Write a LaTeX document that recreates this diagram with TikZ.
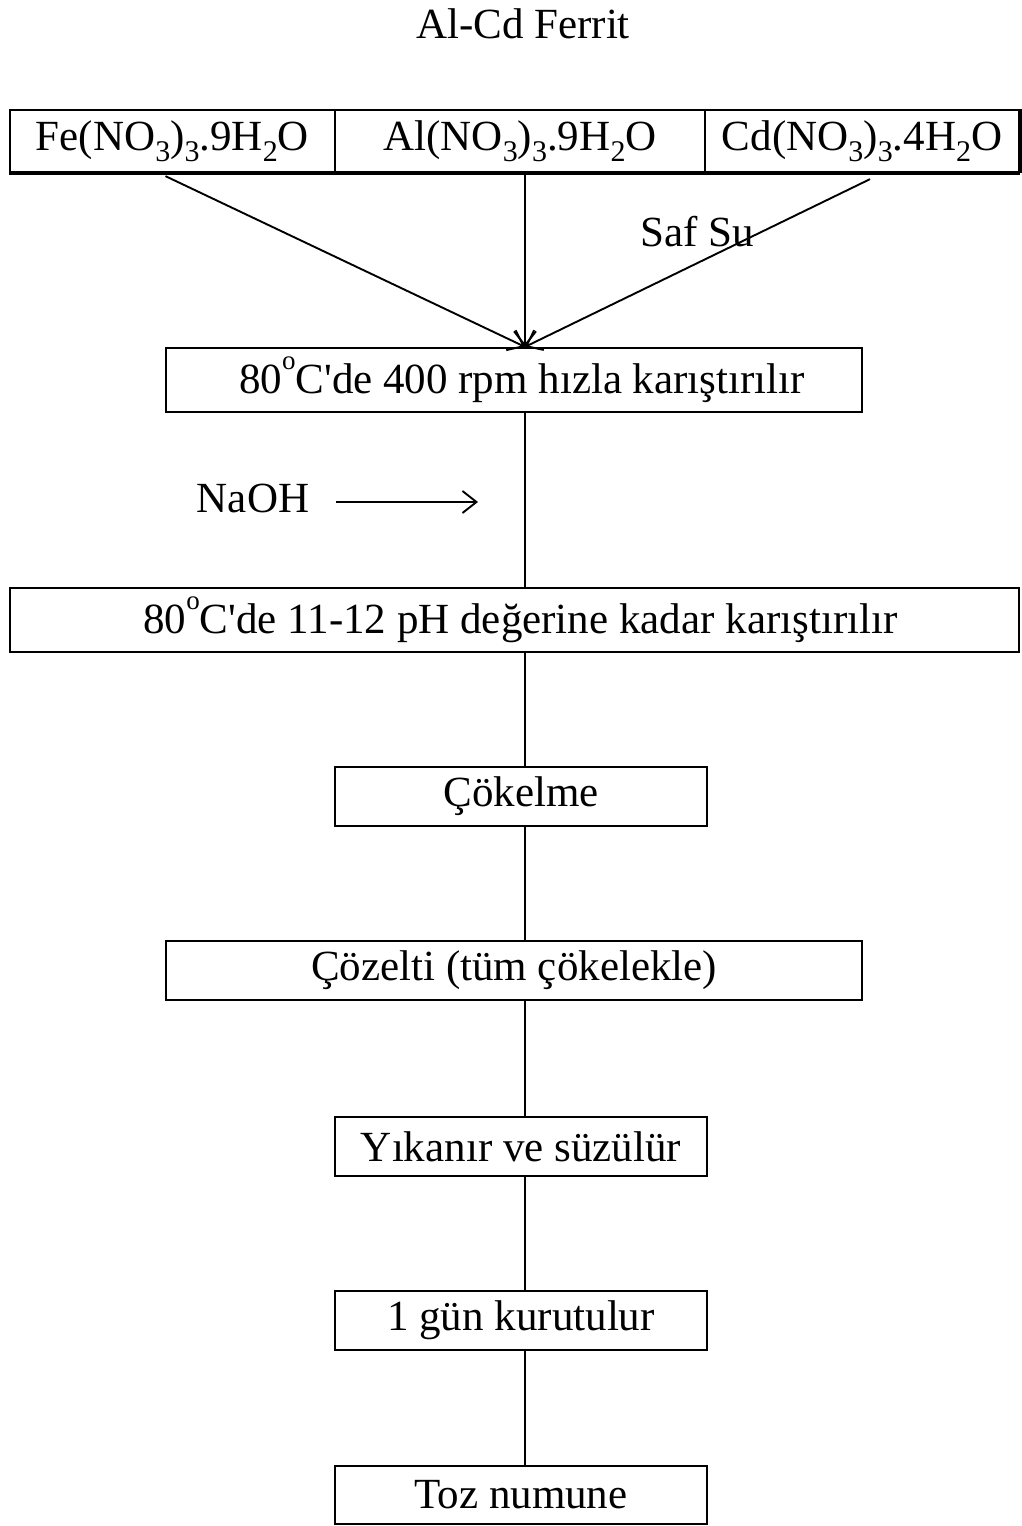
\documentclass[tikz,border=0pt]{standalone}
\usepackage{fontspec}
\setmainfont{Liberation Serif}[Ligatures=TeXOff]
\usetikzlibrary{arrows.meta}
\newcommand{\sbs}[1]{\raisebox{-0.25em}{\fontsize{30}{32}\selectfont #1}}
\newcommand{\dgr}{\raisebox{0.55em}{\fontsize{27}{29}\selectfont o}}
\begin{document}
\begin{tikzpicture}[x=1pt,y=-1pt,
  every node/.style={font=\fontsize{43}{50}\selectfont, inner sep=0pt},
  stepbox/.style={draw, line width=2.3pt, minimum height=#1, anchor=center,
    execute at begin node={\lower4pt\hbox\bgroup}, execute at end node={\egroup}},
  stepbox/.default=60pt,
  conn/.style={line width=1.9pt},
  arr/.style={line width=1.9pt, -{Straight Barb[length=14pt,width=22pt,line width=1.9pt]}}]
\useasboundingbox (0,0) rectangle (1021,1526);
\coordinate (ax) at (525,0);
% title
\node (title) at (523,24) {Al-Cd Ferrit};
% top row
\node[stepbox=62pt, minimum width=325pt] (fe) at (172.5,141) {Fe(NO\sbs{3})\sbs{3}.9H\sbs{2}O};
\node[stepbox=62pt, minimum width=370pt] (al) at (520,141) {Al(NO\sbs{3})\sbs{3}.9H\sbs{2}O};
\node[stepbox=62pt, minimum width=314pt] (cd) at (862,141) {Cd(NO\sbs{3})\sbs{3}.4H\sbs{2}O};
\draw[line width=4pt] (fe.south west) -- (cd.south east);
\draw[line width=3.5pt] (cd.north east) -- (cd.south east);
% boxes
\node[stepbox=64pt, minimum width=696pt] (mix1) at (514,380) {\hspace{16pt}80\dgr C'de 400 rpm hızla karıştırılır};
\node[stepbox=64pt, minimum width=1009pt] (mix2) at (514.5,620) {\hspace{12pt}80\dgr C'de 11-12 pH değerine kadar karıştırılır};
\node[stepbox=59pt, minimum width=372pt] (cok) at (521,796.5) {Çökelme};
\node[stepbox=59pt, minimum width=696pt] (coz) at (514,970.5) {Çözelti (tüm çökelekle)};
\node[stepbox=59pt, minimum width=372pt] (yik) at (521,1146.5) {Yıkanır ve süzülür};
\node[stepbox=59pt, minimum width=372pt] (kur) at (521,1320.5) {1 gün kurutulur};
\node[stepbox=58pt, minimum width=372pt] (toz) at (521,1495) {Toz numune};
% labels
\node (safsu) at (697,232) {Saf Su};
\node (naoh) at (253,498) {NaOH};
\coordinate (naohend) at (478,502);
% connectors into mix1
\draw[arr] ([xshift=-7pt,yshift=-3pt]fe.south) -- (mix1.north -| ax);
\draw[arr] (al.south -| ax) -- (mix1.north -| ax);
\draw[arr] ([xshift=8pt,yshift=-6pt]cd.south) -- (mix1.north -| ax);
% NaOH arrow
\draw[arr] ([xshift=27pt,yshift=-4pt]naoh.east) -- (naohend);
% vertical chain
\draw[conn] (mix1.south -| ax) -- (mix2.north -| ax);
\draw[conn] (mix2.south -| ax) -- (cok.north -| ax);
\draw[conn] (cok.south -| ax) -- (coz.north -| ax);
\draw[conn] (coz.south -| ax) -- (yik.north -| ax);
\draw[conn] (yik.south -| ax) -- (kur.north -| ax);
\draw[conn] (kur.south -| ax) -- (toz.north -| ax);
\end{tikzpicture}
\end{document}
